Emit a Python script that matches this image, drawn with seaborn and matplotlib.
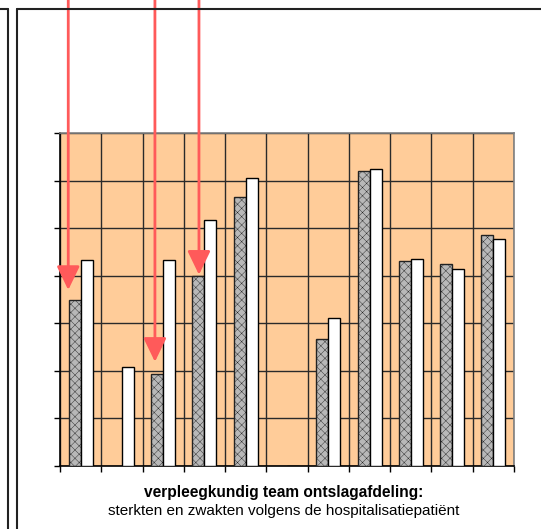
import matplotlib
matplotlib.use("Agg")
import matplotlib.pyplot as plt
import matplotlib.transforms as mtransforms
from matplotlib.lines import Line2D
import seaborn as sns
import pandas as pd
import numpy as np

# ---- data ----
categories = ["1", "2", "3", "4", "5", "6", "7", "8", "9", "10", "11"]
series_names = ["reeks 1", "reeks 2"]
grey_values = [3.49, 0.0, 1.93, 3.99, 5.65, 0.0, 2.67, 6.20, 4.31, 4.25, 4.86]
white_values = [4.33, 2.08, 4.33, 5.17, 6.05, 0.0, 3.11, 6.24, 4.35, 4.14, 4.77]
# arrows: x position (category units) and value at arrow tip
arrow_x = [-0.30, 1.80, 2.867]
arrow_tips = [3.70, 2.19, 4.02]
title_bold = "verpleegkundig team ontslagafdeling:"
title_sub = "sterkten en zwakten volgens de hospitalisatiepatiënt"

df = pd.DataFrame({
    "cat": categories * 2,
    "serie": [series_names[0]] * len(categories) + [series_names[1]] * len(categories),
    "val": grey_values + white_values,
})

sns.set_theme(style="white")
plt.rcParams["font.family"] = ["Liberation Sans", "DejaVu Sans"]
plt.rcParams["hatch.linewidth"] = 0.3

fig = plt.figure(figsize=(5.41, 5.29), dpi=100)
fig.patch.set_facecolor("white")
W, H = 541, 529
ax = fig.add_axes([60 / W, 1 - 466 / H, (514 - 60) / W, (466 - 133) / H])
ax.set_facecolor("#FFCC99")

sns.barplot(data=df, x="cat", y="val", hue="serie", order=categories,
            hue_order=series_names,
            palette={series_names[0]: "#b8b8b8", series_names[1]: "white"},
            width=0.58, edgecolor="black", linewidth=1.0, legend=False,
            saturation=1, ax=ax, zorder=3)
for p in ax.containers[0]:
    p.set_hatch("xxxx")
    p.set_edgecolor("#222222")

ax.set_xlim(-0.5, len(categories) - 0.5)
ax.set_ylim(0, 7)
ax.set_xlabel("")
ax.set_ylabel("")
ax.set_xticks(np.arange(-0.5, len(categories), 1.0))
ax.set_xticklabels([])
ax.set_yticks(np.arange(0, 8, 1))
ax.set_yticklabels([])
ax.grid(True, color="#2a2a2a", linewidth=1.0, zorder=1)
ax.set_axisbelow(True)
ax.tick_params(axis="both", which="major", length=4, width=1, color="black",
               direction="out", bottom=True, left=True)
for side in ["top", "right"]:
    ax.spines[side].set_color("#808080")
    ax.spines[side].set_linewidth(1.2)
for side in ["left", "bottom"]:
    ax.spines[side].set_color("black")
    ax.spines[side].set_linewidth(1.2)

# titles
fig.text(284 / W, 1 - 492 / H, title_bold, ha="center", va="center",
         fontsize=11.2, fontweight="bold", color="black")
fig.text(284 / W, 1 - 511 / H, title_sub, ha="center", va="center",
         fontsize=11, color="black")

# frames
fc = "#222222"
fig.add_artist(Line2D([0, 8 / W], [1 - 9 / H, 1 - 9 / H], color=fc, lw=1.5, transform=fig.transFigure))
fig.add_artist(Line2D([8 / W, 8 / W], [0, 1 - 9 / H], color=fc, lw=1.5, transform=fig.transFigure))
fig.add_artist(Line2D([17 / W, 1], [1 - 9 / H, 1 - 9 / H], color=fc, lw=1.5, transform=fig.transFigure))
fig.add_artist(Line2D([17 / W, 17 / W], [0, 1 - 9 / H], color=fc, lw=1.5, transform=fig.transFigure))

# arrows
blend = mtransforms.blended_transform_factory(ax.transData, fig.transFigure)
for x, tip in zip(arrow_x, arrow_tips):
    ax.annotate("", xy=(x, tip), xycoords="data", xytext=(x, 1.0), textcoords=blend,
                arrowprops=dict(arrowstyle="-|>,head_length=1.45,head_width=0.7",
                                color="#FF5A5A", lw=2, mutation_scale=10,
                                shrinkA=0, shrinkB=0),
                annotation_clip=False, zorder=10)

fig.savefig("out.png", dpi=100, facecolor="white")
